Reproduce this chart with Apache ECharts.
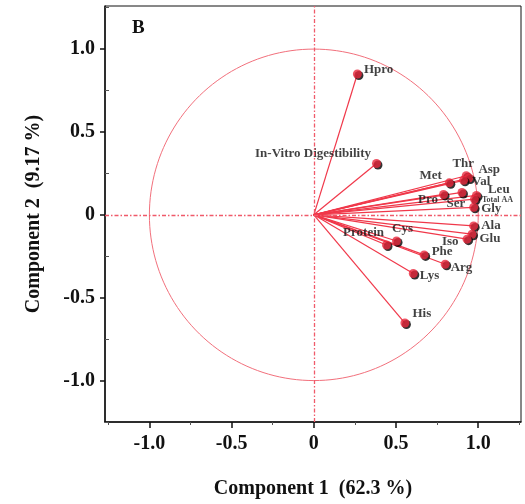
<!DOCTYPE html>
<html lang="en">
<head>
<meta charset="UTF-8">
<title>PCA loading plot</title>
<script src="https://cdn.jsdelivr.net/npm/echarts@6/dist/echarts.min.js"></script>
<style>
  html, body { margin: 0; padding: 0; background: #fff; }
  #main { width: 525px; height: 504px; }
</style>
</head>
<body>
<div id="main"></div>
<script>
// variable names and their loadings on the first two components
var varNames = ['Hpro', 'In-Vitro Digestibility', 'Thr', 'Asp', 'Met', 'Val', 'Pro', 'Ser', 'Leu', 'Total AA',
                'Gly', 'Ala', 'Glu', 'Iso', 'Protein', 'Cys', 'Phe', 'Arg', 'Lys', 'His'];
var comp1 = [0.265, 0.381, 0.927, 0.943, 0.824, 0.911, 0.789, 0.901, 0.989, 0.977,
             0.972, 0.972, 0.962, 0.932, 0.442, 0.503, 0.671, 0.799, 0.605, 0.554];
var comp2 = [0.850, 0.310, 0.236, 0.222, 0.193, 0.208, 0.123, 0.135, 0.117, 0.095,
             0.045, -0.067, -0.117, -0.147, -0.182, -0.158, -0.242, -0.298, -0.354, -0.653];

var majorTicks = [-1, -0.5, 0, 0.5, 1];
var minorTicks = [-1.25, -0.75, -0.25, 0.25, 0.75, 1.25];

// where each label sits relative to its point
var labelPlace = {
  'Hpro': ['right', [-1, -4]],
  'In-Vitro Digestibility': ['left', [2, -10]],
  'Thr': ['top', [-3, 2]],
  'Asp': ['right', [2, -8]],
  'Met': ['left', [0, -7]],
  'Val': ['right', [1, 1]],
  'Pro': ['left', [2, 5]],
  'Ser': ['bottom', [-6, -3]],
  'Leu': ['right', [4, -6]],
  'Total AA': ['right', [0, 1]],
  'Gly': ['right', [0, 1]],
  'Ala': ['right', [0, 0]],
  'Glu': ['right', [0, 4]],
  'Iso': ['left', [-1, 2]],
  'Protein': ['left', [5, -12]],
  'Cys': ['top', [6, 2]],
  'Phe': ['right', [0, -3]],
  'Arg': ['right', [-2, 3]],
  'Lys': ['right', [-1, 2]],
  'His': ['right', [0, -9]]
};

var serif = 'Liberation Serif';
var red = '#f0384a';

var lineData = [];
var pointData = [];
for (var i = 0; i < varNames.length; i++) {
  lineData.push({ coords: [[0, 0], [comp1[i], comp2[i]]] });
  var pl = labelPlace[varNames[i]];
  pointData.push({
    name: varNames[i],
    value: [comp1[i], comp2[i]],
    label: {
      position: pl[0],
      offset: pl[1],
      distance: 3,
      fontSize: varNames[i] === 'Total AA' ? 8 : 13
    }
  });
}

function tickFmt(v) {
  return v === 0 ? '0' : v.toFixed(1);
}

var chart = echarts.init(document.getElementById('main'));
var option = {
  backgroundColor: '#fff',
  animation: false,
  graphic: [{
    type: 'text', left: 132, top: 19,
    style: { text: 'B', font: 'bold 19px "Liberation Serif"', fill: '#111' }
  }],
  grid: {
    left: 105, right: 4, top: 6, bottom: 81,
    show: true, borderColor: '#111', borderWidth: 1
  },
  xAxis: [{
    type: 'value', min: -1.27, max: 1.26,
    name: 'Component 1  (62.3 %)', nameLocation: 'middle', nameGap: 57,
    nameTextStyle: { fontFamily: serif, fontWeight: 'bold', fontSize: 20, color: '#111' },
    axisLine: { onZero: false, lineStyle: { color: '#111', width: 1.5 } },
    axisTick: { customValues: majorTicks, length: 6, lineStyle: { color: '#111', width: 1.5 } },
    axisLabel: { customValues: majorTicks, formatter: tickFmt, margin: 12,
                 fontFamily: serif, fontWeight: 'bold', fontSize: 20, color: '#111' },
    splitLine: { show: false }
  }, {
    type: 'value', min: -1.27, max: 1.26, position: 'bottom',
    axisLine: { show: false, onZero: false },
    axisTick: { customValues: minorTicks, length: 3, lineStyle: { color: '#555' } },
    axisLabel: { show: false },
    splitLine: { show: false }
  }],
  yAxis: [{
    type: 'value', min: -1.25, max: 1.26,
    name: 'Component 2  (9.17 %)', nameLocation: 'middle', nameGap: 61, nameRotate: 90,
    nameTextStyle: { fontFamily: serif, fontWeight: 'bold', fontSize: 20, color: '#111' },
    axisLine: { onZero: false, lineStyle: { color: '#111', width: 1.5 } },
    axisTick: { customValues: majorTicks, length: 5, lineStyle: { color: '#111', width: 1.5 } },
    axisLabel: { customValues: majorTicks, formatter: tickFmt, margin: 10,
                 fontFamily: serif, fontWeight: 'bold', fontSize: 20, color: '#111' },
    splitLine: { show: false }
  }, {
    type: 'value', min: -1.25, max: 1.26, position: 'left',
    axisLine: { show: false, onZero: false },
    axisTick: { customValues: minorTicks, inside: true, length: 4, lineStyle: { color: '#555' } },
    axisLabel: { show: false },
    splitLine: { show: false }
  }],
  series: [{
    // unit correlation circle
    type: 'custom',
    silent: true,
    data: [[0, 0]],
    renderItem: function (params, api) {
      var pts = [];
      for (var a = 0; a <= 360; a += 2) {
        var r = a * Math.PI / 180;
        pts.push(api.coord([Math.cos(r), Math.sin(r)]));
      }
      return {
        type: 'polyline',
        shape: { points: pts },
        style: { stroke: '#f2707c', lineWidth: 1, fill: null }
      };
    },
    z: 1
  }, {
    type: 'lines',
    coordinateSystem: 'cartesian2d',
    silent: true,
    data: lineData,
    lineStyle: { color: red, width: 1.2, opacity: 1 },
    markLine: {
      silent: true,
      symbol: 'none',
      label: { show: false },
      lineStyle: { color: '#f05a6a', width: 1.3, type: [4, 2, 1.5, 2], opacity: 1, shadowBlur: 0, shadowColor: 'transparent' },
      data: [{ xAxis: 0 }, { yAxis: 0 }]
    },
    z: 2
  }, {
    type: 'scatter',
    data: pointData,
    symbol: 'circle',
    symbolSize: 9,
    itemStyle: {
      color: '#e8283c', shadowColor: '#000', shadowBlur: 0, shadowOffsetX: 1.5, shadowOffsetY: 1.5
    },
    label: {
      show: true,
      formatter: '{b}',
      fontFamily: serif, fontWeight: 'bold', color: '#111'
    },
    z: 3
  }]
};
chart.setOption(option);
</script>
</body>
</html>
